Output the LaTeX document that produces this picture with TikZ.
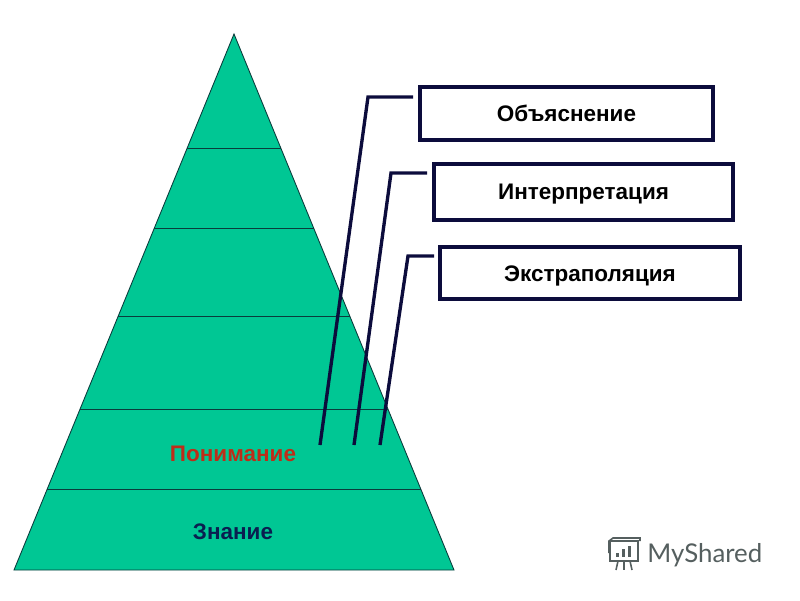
\documentclass[tikz,border=0pt]{standalone}
\usepackage{fontspec}
\setmainfont{Liberation Sans}
\newfontfamily\logofont{Lato}
\usetikzlibrary{calc}
\definecolor{pyrgreen}{RGB}{0,199,148}
\definecolor{pyrline}{RGB}{10,60,60}
\definecolor{boxnavy}{RGB}{12,12,60}
\definecolor{termred}{RGB}{190,45,25}
\definecolor{termnavy}{RGB}{10,30,80}
\definecolor{logogray}{RGB}{85,95,95}
\tikzset{
    termbox/.style={draw=boxnavy, line width=2pt, fill=white, inner sep=0pt},
    termtext/.style={font=\bfseries\fontsize{12.8}{15}\selectfont, inner sep=0pt, anchor=base},
    leader/.style={draw=boxnavy, line width=1.9pt, line join=miter},
    level/.style={draw=pyrline, line width=0.5pt}
}

\begin{document}
\begin{tikzpicture}[x=0.02cm, y=-0.02cm]
        \useasboundingbox (0, 0) rectangle (800, 600);

        % Triangle corners
        \coordinate (T) at (234, 34);
        \coordinate (L) at (14, 570);
        \coordinate (R) at (454, 570);

        \fill[pyrgreen] (T) -- (L) -- (R) -- cycle;
        \draw[level] (T) -- (L) -- (R) -- cycle;

        % Levels of the triangle
        \foreach \name/\y in {a/148, b/228, c/316, d/409, e/489} {
            \pgfmathsetmacro{\halfwidth}{0.41045 * (\y - 34)}
            \coordinate (\name1) at (234 - \halfwidth, \y);
            \coordinate (\name2) at (234 + \halfwidth, \y);
            \draw[level] (\name1) -- (\name2);
        }

        \node[termtext, text=termred] (understand) at (233, 461.5) {Понимание};
        \node[termtext, text=termnavy] (know) at (233, 539) {Знание};

        % Boxes on the right
        \node[termbox, minimum width=5.86cm, minimum height=1.06cm] (explain) at (566.5, 113.5) {};
        \node[termbox, minimum width=5.98cm, minimum height=1.12cm] (interpret) at (583.5, 192) {};
        \node[termbox, minimum width=6.0cm, minimum height=1.04cm] (extrapolate) at (590, 273) {};

        \node[termtext] (explaintext) at (566.5, 121.5) {Объяснение};
        \node[termtext] (interprettext) at (583.5, 199.5) {Интерпретация};
        \node[termtext] (extrapolatetext) at (590, 281.5) {Экстраполяция};

        % Leaders from the lower levels towards the boxes
        \coordinate (S1) at (320, 445);
        \coordinate (S2) at (354, 445);
        \coordinate (S3) at (380, 445);
        \coordinate (K1) at (368, 97);
        \coordinate (K2) at (391, 173);
        \coordinate (K3) at (408, 256);
        \coordinate (E1) at (413, 97);
        \coordinate (E2) at (427, 173);
        \coordinate (E3) at (434, 256);

        \draw[leader] (S1) -- (K1) -- (E1);
        \draw[leader] (S2) -- (K2) -- (E2);
        \draw[leader] (S3) -- (K3) -- (E3);

        % Logo in the corner
        \begin{scope}[logogray, line width=0.9pt]
            \draw (610, 541) rectangle (638, 561);
            \draw (609, 553) -- (609, 541) -- (613, 538) -- (640, 538) -- (640, 541);
            \fill (616, 553) rectangle (619, 557);
            \fill (622, 549) rectangle (625, 557);
            \fill (628, 546) rectangle (631, 557);
            \draw (618, 561) -- (616, 570);
            \draw (624, 561) -- (624, 570);
            \draw (630, 561) -- (632, 570);
        \end{scope}
        \node[font=\logofont\fontsize{14.7}{16}\selectfont, text=logogray, anchor=west, inner sep=0pt] (logo) at (647, 555) {MyShared};
    \end{tikzpicture}
\end{document}
